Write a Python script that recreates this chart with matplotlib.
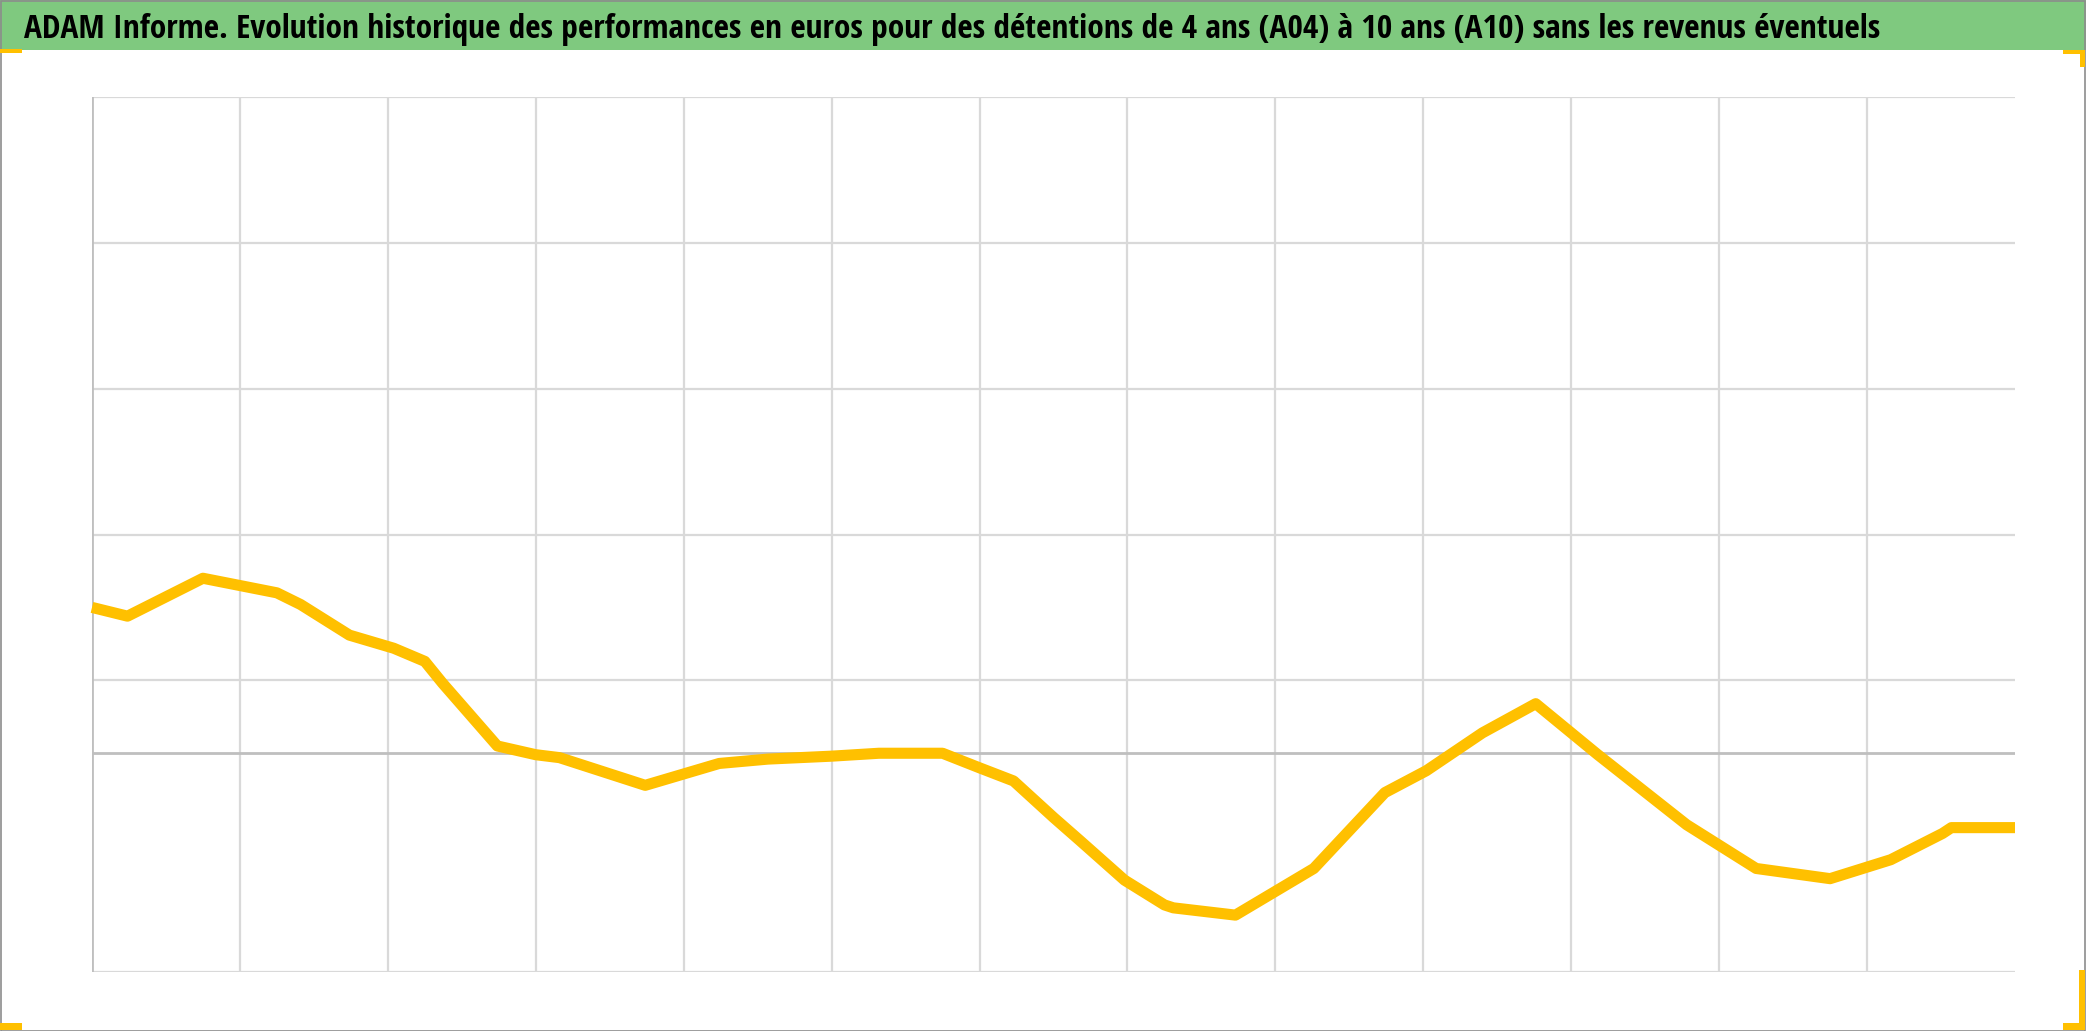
import matplotlib
matplotlib.use("Agg")
import matplotlib.pyplot as plt
from matplotlib.patches import Rectangle
from matplotlib import font_manager

# ---- data (x in grid intervals, y in % ) ----
x_pos = [0.0, 0.24, 0.75, 1.0, 1.25, 1.41, 1.74, 2.04, 2.25, 2.37, 2.74, 3.0, 3.16,
         3.74, 4.24, 4.57, 5.0, 5.32, 5.75, 6.0, 6.23, 6.5, 6.68, 6.98, 7.25, 7.31,
         7.73, 8.26, 8.74, 9.02, 9.4, 9.76, 10.18, 10.78, 11.25, 11.75, 12.16, 12.51,
         12.57, 13.0]
perf = [10.0, 9.4, 12.0, 11.5, 11.0, 10.2, 8.1, 7.2, 6.3, 4.8, 0.5, -0.1, -0.3,
        -2.2, -0.7, -0.4, -0.2, 0.0, 0.0, -1.0, -1.9, -4.4, -6.0, -8.7, -10.4, -10.6,
        -11.1, -7.9, -2.7, -1.2, 1.4, 3.4, -0.1, -4.9, -7.9, -8.6, -7.3, -5.5,
        -5.1, -5.1]
x_grid = list(range(0, 13))
y_grid = [-15, 5, 15, 25, 35, 45]
y_min, y_max = -15, 45
x_min, x_max = 0, 13

title = ("ADAM Informe. Evolution historique des performances en euros pour des "
         "détentions de 4 ans (A04) à 10 ans (A10) sans les revenus éventuels")

W, H = 2086, 1031
fig = plt.figure(figsize=(W / 100, H / 100), dpi=100)
fig.patch.set_facecolor("white")

# title bar
fig.add_artist(Rectangle((0, 1 - 50 / H), 1, 50 / H, transform=fig.transFigure,
                         facecolor="#7FC97F", edgecolor="none", zorder=0))

# choose a narrow bold font if one exists
fam, stretch = "DejaVu Sans", "normal"
entries = font_manager.fontManager.ttflist
names = {f.name for f in entries}
for cand in ["Liberation Sans Narrow", "Open Sans Condensed", "Roboto Condensed",
             "DejaVu Sans Condensed"]:
    if cand in names:
        fam = cand
        break
else:
    for f in entries:
        if f.name == "DejaVu Sans" and f.stretch not in ("normal", 500) and f.weight in ("bold", 700):
            stretch = "condensed"
            break
    if stretch == "normal":
        for f in entries:
            if "Condensed" in f.name or "Narrow" in f.name:
                fam = f.name
                break

t = fig.text(24 / W, 1 - 38 / H, title, fontsize=22, fontweight="bold",
             family=fam, fontstretch=stretch, color="black", ha="left",
             va="baseline")
fig.canvas.draw()
bb = t.get_window_extent(renderer=fig.canvas.get_renderer())
t.set_fontsize(22 * (1856 / bb.width))

ax = fig.add_axes([92 / W, 1 - 972 / H, (2015 - 92) / W, (972 - 97) / H])
ax.set_xlim(x_min, x_max)
ax.set_ylim(y_min, y_max)
for s in ax.spines.values():
    s.set_visible(False)
ax.set_xticks([])
ax.set_yticks([])

for yv in y_grid:
    ax.axhline(yv, color="#D9D9D9", lw=1.6, zorder=1)
for xv in x_grid[1:]:
    ax.axvline(xv, color="#D9D9D9", lw=1.6, zorder=1)
ax.axvline(0, color="#BFBFBF", lw=2.0, zorder=2)
ax.axhline(0, color="#BFBFBF", lw=2.0, zorder=2)

ax.plot(x_pos, perf, color="#FFC000", lw=8.0, solid_joinstyle="round",
        solid_capstyle="butt", zorder=3, clip_on=False)

# figure border
fig.add_artist(Rectangle((0.5 / W, 0.5 / H), 1 - 1.5 / W, 1 - 1.5 / H,
                         transform=fig.transFigure, facecolor="none",
                         edgecolor="#8C8C8C", lw=1.2, zorder=5))

# selection handles
def px_rect(x0, y0, x1, y1):
    fig.add_artist(Rectangle((x0 / W, 1 - y1 / H), (x1 - x0) / W, (y1 - y0) / H,
                             transform=fig.transFigure, facecolor="#FFC000",
                             edgecolor="none", zorder=6))

px_rect(0, 49, 22, 53)
px_rect(2063, 50, 2085, 54)
px_rect(2080, 50, 2085, 67)
px_rect(0, 1023, 22, 1030)
px_rect(2079, 970, 2085, 1030)
px_rect(2063, 1023, 2085, 1030)

fig.savefig("out.png", dpi=100)
